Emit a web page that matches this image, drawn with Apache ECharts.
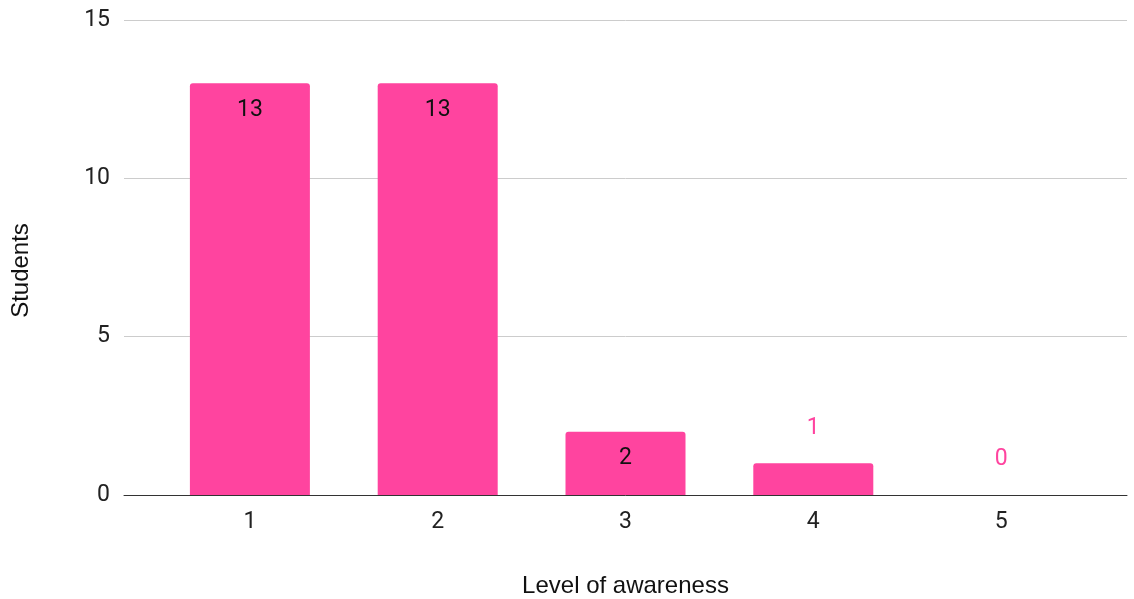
<!DOCTYPE html>
<html>
<head>
<meta charset="utf-8">
<script src="https://cdn.jsdelivr.net/npm/echarts@6/dist/echarts.min.js"></script>
<style>
  html, body { margin: 0; padding: 0; background: #fff; }
  #chart { width: 1134px; height: 599px; }
</style>
</head>
<body>
<div id="chart"></div>
<script>
// Awareness levels and how many students picked each one
const levels = ['1', '2', '3', '4', '5'];
const students = [13, 13, 2, 1, 0];
const yTicks = [0, 5, 10, 15];

const PINK = '#ff449f';
const TICK_FONT = 'Roboto, "Liberation Sans", Arial, sans-serif';
const NAME_FONT = '"Liberation Sans", Arial, sans-serif';

// Short bars get their label above the bar in the series colour
const barData = students.map(v => {
  if (v >= 2) return { value: v };
  return {
    value: v,
    label: { position: 'top', distance: 24, color: PINK }
  };
});

const chart = echarts.init(document.getElementById('chart'), null, { renderer: 'canvas' });

chart.setOption({
  animation: false,
  backgroundColor: '#ffffff',
  grid: [
    // full-width grid carrying the gridlines and baseline
    { left: 124, right: 7, top: 20, bottom: 104, outerBoundsMode: 'none' },
    // narrower grid holding the bars
    { left: 156, right: 39, top: 20, bottom: 104, outerBoundsMode: 'none' }
  ],
  xAxis: [
    {
      gridIndex: 0, type: 'value', min: 0, max: 1,
      axisLine: { show: true, onZero: false, lineStyle: { color: '#333', width: 1 } },
      axisTick: { show: false }, axisLabel: { show: false }, splitLine: { show: false }
    },
    {
      gridIndex: 1, type: 'category', data: levels,
      axisLine: { show: false }, axisTick: { show: false },
      axisLabel: { color: '#222', fontSize: 23, fontFamily: TICK_FONT, margin: 16 },
      name: 'Level of awareness', nameLocation: 'middle', nameGap: 79,
      nameTextStyle: { color: '#111', fontSize: 24, fontFamily: NAME_FONT }
    }
  ],
  yAxis: [
    {
      gridIndex: 0, type: 'value', min: yTicks[0], max: yTicks[yTicks.length - 1], interval: 5,
      axisLine: { show: false }, axisTick: { show: false },
      axisLabel: { color: '#222', fontSize: 23, fontFamily: TICK_FONT, margin: 14 },
      splitLine: { lineStyle: { color: '#cccccc', width: 1 } },
      name: 'Students', nameLocation: 'middle', nameGap: 91,
      nameTextStyle: { color: '#111', fontSize: 24, fontFamily: NAME_FONT, padding: [0, 26, 0, 0] }
    },
    {
      gridIndex: 1, type: 'value', min: yTicks[0], max: yTicks[yTicks.length - 1], interval: 5,
      show: false
    }
  ],
  series: [{
    type: 'bar',
    xAxisIndex: 1,
    yAxisIndex: 1,
    data: barData,
    barWidth: 120,
    itemStyle: { color: PINK, borderRadius: [3, 3, 0, 0] },
    label: {
      show: true,
      position: 'insideTop',
      distance: 15,
      color: '#111',
      fontSize: 23,
      fontFamily: TICK_FONT
    }
  }]
});
</script>
</body>
</html>
